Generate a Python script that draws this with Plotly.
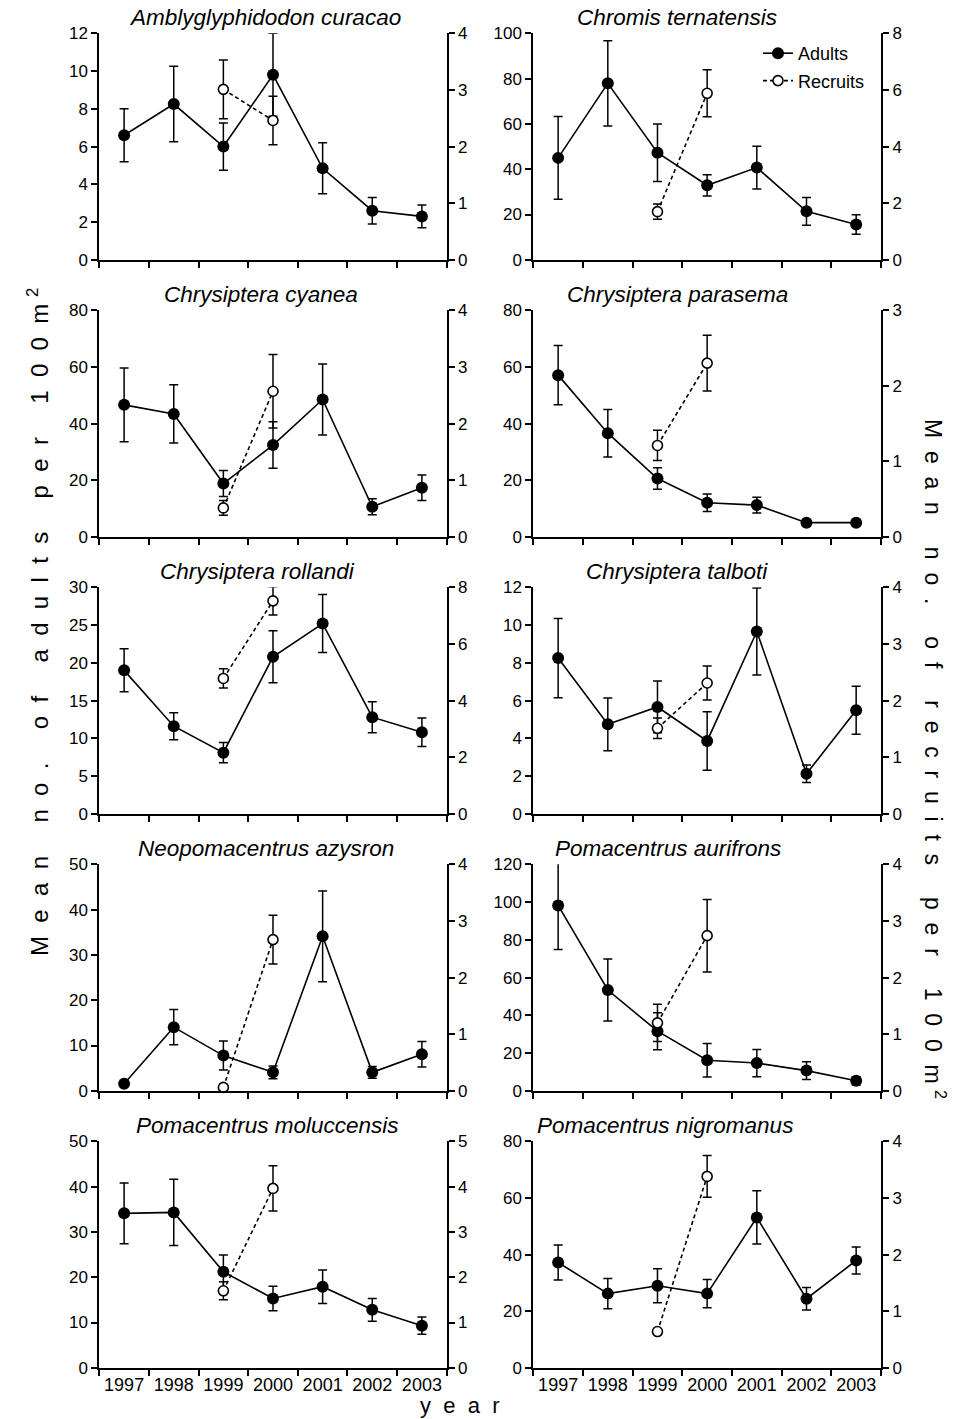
import plotly.graph_objects as go

W, H = 959, 1419

years = [1997, 1998, 1999, 2000, 2001, 2002, 2003]
recruit_years = [1999, 2000]

species = [
    "Amblyglyphidodon curacao", "Chromis ternatensis",
    "Chrysiptera cyanea", "Chrysiptera parasema",
    "Chrysiptera rollandi", "Chrysiptera talboti",
    "Neopomacentrus azysron", "Pomacentrus aurifrons",
    "Pomacentrus moluccensis", "Pomacentrus nigromanus",
]

adult_mean = [
    [6.6, 8.25, 6.0, 9.8, 4.85, 2.6, 2.3],
    [45.0, 77.9, 47.3, 32.9, 40.7, 21.4, 15.6],
    [46.6, 43.4, 18.8, 32.4, 48.5, 10.6, 17.3],
    [57.1, 36.6, 20.6, 12.0, 11.2, 5.0, 5.0],
    [19.0, 11.6, 8.1, 20.8, 25.2, 12.8, 10.8],
    [8.25, 4.74, 5.66, 3.86, 9.66, 2.12, 5.49],
    [1.55, 14.05, 7.77, 4.07, 34.1, 4.07, 8.06],
    [98.2, 53.4, 31.6, 16.2, 14.7, 10.7, 5.3],
    [34.1, 34.3, 21.2, 15.3, 17.9, 12.8, 9.3],
    [37.2, 26.2, 29.0, 26.2, 53.1, 24.4, 37.9],
]
adult_err = [
    [1.4, 2.0, 1.25, 2.2, 1.35, 0.7, 0.6],
    [18.3, 18.8, 12.7, 4.7, 9.4, 6.1, 4.3],
    [13.0, 10.3, 4.6, 8.2, 12.5, 2.8, 4.5],
    [10.5, 8.4, 3.8, 3.1, 2.8, 1.0, 1.0],
    [2.85, 1.8, 1.35, 3.45, 3.85, 2.05, 1.9],
    [2.1, 1.4, 1.37, 1.55, 2.3, 0.46, 1.27],
    [0.4, 3.9, 3.2, 1.4, 10.0, 1.3, 2.8],
    [23.3, 16.4, 9.8, 8.9, 7.2, 4.7, 2.2],
    [6.7, 7.3, 3.7, 2.7, 3.7, 2.5, 1.9],
    [6.2, 5.3, 6.0, 5.0, 9.4, 4.0, 4.8],
]
recruit_mean = [
    [3.01, 2.46], [1.70, 5.88], [0.51, 2.57], [1.21, 2.30], [4.78, 7.52],
    [1.51, 2.31], [0.06, 2.67], [1.20, 2.74], [1.70, 3.96], [0.64, 3.38],
]
recruit_err = [
    [0.52, 0.43], [0.27, 0.83], [0.13, 0.65], [0.2, 0.37], [0.34, 0.5],
    [0.18, 0.3], [0.0, 0.43], [0.33, 0.64], [0.2, 0.5], [0.05, 0.37],
]
adult_axis_max = [12, 100, 80, 80, 30, 12, 50, 120, 50, 80]
adult_axis_step = [2, 20, 20, 20, 5, 2, 10, 20, 10, 20]
recruit_axis_max = [4, 8, 4, 3, 8, 4, 4, 4, 5, 4]
recruit_axis_step = [1, 2, 1, 1, 2, 1, 1, 1, 1, 1]

# ---- layout geometry (pixels) ----
col_x = [(99.3, 446.7), (533.3, 881.0)]
row_top0, row_pitch, row_h = 33.3, 277.0, 226.5
title_cx = [265, 677, 261, 677, 257, 677, 266, 668, 267, 665]

FONT = "Liberation Sans, Arial, sans-serif"
fig = go.Figure()
layout = {}
annotations = []

def px_x(p):
    return p / W

def px_y(p):
    return 1 - p / H

for i, name in enumerate(species):
    r, c = divmod(i, 2)
    top = row_top0 + r * row_pitch
    bot = top + row_h
    x0, x1 = col_x[c]
    xa = f"x{i+1}" if i else "x"
    ya = f"y{2*i+1}" if i else "y"
    yb = f"y{2*i+2}"
    xkey = f"xaxis{i+1}" if i else "xaxis"
    ykey = f"yaxis{2*i+1}" if i else "yaxis"
    ykey2 = f"yaxis{2*i+2}"
    bottom_row = (r == 4)

    layout[xkey] = dict(
        domain=[px_x(x0), px_x(x1)], anchor=ya, range=[1996.5, 2003.5],
        tickvals=years, ticktext=[str(y) for y in years], ticks="",
        showticklabels=bottom_row, ticklabelstandoff=0, automargin=False,
        tickfont=dict(size=18, color="black", family=FONT),
        showline=True, linecolor="black", linewidth=2, showgrid=False, zeroline=False,
        minor=dict(tickvals=[y - 0.5 for y in years] + [2003.5], ticks="outside",
                   ticklen=6, tickwidth=1.5, tickcolor="black", showgrid=False),
        fixedrange=True,
    )
    layout[ykey] = dict(
        domain=[px_y(bot), px_y(top)], anchor=xa, automargin=False,
        range=[0, adult_axis_max[i]], tick0=0, dtick=adult_axis_step[i],
        ticks="outside", ticklen=6, tickwidth=1.5, tickcolor="black",
        tickfont=dict(size=17, color="black", family=FONT),
        showline=True, linecolor="black", linewidth=2, showgrid=False, zeroline=False,
        fixedrange=True,
    )
    layout[ykey2] = dict(
        overlaying=ya, anchor=xa, side="right", automargin=False,
        range=[0, recruit_axis_max[i]], tick0=0, dtick=recruit_axis_step[i],
        ticks="outside", ticklen=6, tickwidth=1.5, tickcolor="black",
        tickfont=dict(size=17, color="black", family=FONT),
        showline=True, linecolor="black", linewidth=2, showgrid=False, zeroline=False,
        fixedrange=True,
    )

    fig.add_trace(go.Scatter(
        x=years, y=adult_mean[i], xaxis=xa, yaxis=ya, name="Adults",
        mode="lines+markers", showlegend=(i == 1), legendgroup="a",
        line=dict(color="black", width=1.6),
        marker=dict(symbol="circle", size=12, color="black"),
        error_y=dict(type="data", array=adult_err[i], color="black", thickness=1.5, width=4.5),
        cliponaxis=False,
    ))
    fig.add_trace(go.Scatter(
        x=recruit_years, y=recruit_mean[i], xaxis=xa, yaxis=yb, name="Recruits",
        mode="lines+markers", showlegend=(i == 1), legendgroup="r",
        line=dict(color="black", width=1.6, dash="4px,3px"),
        marker=dict(symbol="circle", size=10, color="white", line=dict(color="black", width=1.6)),
        error_y=dict(type="data", array=recruit_err[i], color="black", thickness=1.5, width=4.5),
        cliponaxis=False,
    ))

    annotations.append(dict(
        text=f"<i>{name}</i>", xref="paper", yref="paper",
        x=px_x(title_cx[i]), y=px_y(top - 1), xanchor="center", yanchor="bottom",
        showarrow=False, font=dict(size=22.5, color="black", family=FONT),
    ))

sp = "\u00a0"
def spaced(s, gap=2, wgap=5):
    words = s.split(" ")
    return (sp * wgap).join((sp * gap).join(list(w)) for w in words)

left_title = spaced("Mean no. of adults per 100m") + sp + "<sup>2</sup>"
right_title = spaced("Mean no. of recruits per 100m") + sp + "<sup>2</sup>"

annotations.append(dict(text=left_title, xref="paper", yref="paper",
                        x=px_x(38), y=px_y(622), xanchor="center", yanchor="middle",
                        textangle=-90, showarrow=False,
                        font=dict(size=24, color="black", family=FONT)))
annotations.append(dict(text=right_title, xref="paper", yref="paper",
                        x=px_x(935), y=px_y(759), xanchor="center", yanchor="middle",
                        textangle=90, showarrow=False,
                        font=dict(size=23, color="black", family=FONT)))
annotations.append(dict(text=spaced("year"), xref="paper", yref="paper",
                        x=px_x(459), y=px_y(1405), xanchor="center", yanchor="middle",
                        showarrow=False, font=dict(size=22, color="black", family=FONT)))

fig.update_layout(
    template="none",
    width=W, height=H, margin=dict(l=0, r=0, t=0, b=0, pad=0, autoexpand=False),
    paper_bgcolor="white", plot_bgcolor="white",
    font=dict(family=FONT, color="black"),
    showlegend=True,
    legend=dict(x=px_x(758), y=px_y(35), xanchor="left", yanchor="top",
                bgcolor="rgba(0,0,0,0)", borderwidth=0,
                font=dict(size=18, color="black", family=FONT),
                tracegroupgap=1, itemwidth=30),
    annotations=annotations,
    **layout,
)

fig.write_html("out.html")
